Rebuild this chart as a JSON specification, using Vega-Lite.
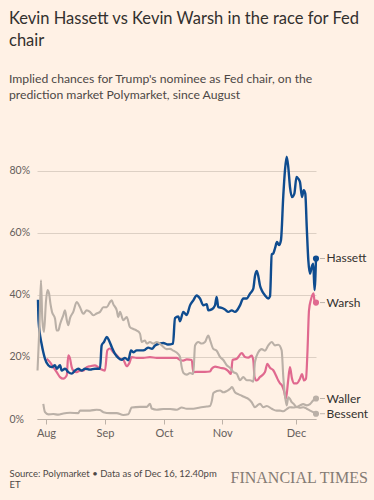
{
 "$schema": "https://vega.github.io/schema/vega-lite/v6.json",
 "width": 282,
 "height": 267,
 "autosize": {"type": "none"},
 "padding": {"left": 37, "top": 152, "right": 55, "bottom": 81},
 "background": "#fff1e5",
 "config": {"view": {"stroke": null}, "font": "Lato"},
 "title": {
  "text": ["Kevin Hassett vs Kevin Warsh in the race for Fed", "chair"],
  "subtitle": ["Implied chances for Trump's nominee as Fed chair, on the", "prediction market Polymarket, since August"],
  "anchor": "start",
  "frame": "bounds",
  "font": "Lato",
  "fontSize": 16.5,
  "fontWeight": "normal",
  "color": "#33302e",
  "lineHeight": 22.5,
  "subtitleFont": "Lato",
  "subtitleFontSize": 12.2,
  "subtitleColor": "#4d4845",
  "subtitleLineHeight": 16,
  "subtitlePadding": 23,
  "offset": 51
 },
 "data": {"format": {"parse": {"date": "utc:'%Y-%m-%dT%H:%M'"}}, "values": [
  {"name": "Hassett", "date": "2025-07-27T13:00", "pct": 38.4},
  {"name": "Hassett", "date": "2025-07-27T21:00", "pct": 31.5},
  {"name": "Hassett", "date": "2025-07-29T15:00", "pct": 24.0},
  {"name": "Hassett", "date": "2025-07-30T12:00", "pct": 21.5},
  {"name": "Hassett", "date": "2025-07-31T11:00", "pct": 19.4},
  {"name": "Hassett", "date": "2025-08-02T05:00", "pct": 17.3},
  {"name": "Hassett", "date": "2025-08-04T00:00", "pct": 16.7},
  {"name": "Hassett", "date": "2025-08-05T18:00", "pct": 17.3},
  {"name": "Hassett", "date": "2025-08-06T15:00", "pct": 16.2},
  {"name": "Hassett", "date": "2025-08-08T09:00", "pct": 17.3},
  {"name": "Hassett", "date": "2025-08-09T06:00", "pct": 15.6},
  {"name": "Hassett", "date": "2025-08-11T00:00", "pct": 16.2},
  {"name": "Hassett", "date": "2025-08-12T17:00", "pct": 15.1},
  {"name": "Hassett", "date": "2025-08-14T12:00", "pct": 14.6},
  {"name": "Hassett", "date": "2025-08-16T06:00", "pct": 15.6},
  {"name": "Hassett", "date": "2025-08-17T23:00", "pct": 16.2},
  {"name": "Hassett", "date": "2025-08-19T18:00", "pct": 15.6},
  {"name": "Hassett", "date": "2025-08-21T12:00", "pct": 16.2},
  {"name": "Hassett", "date": "2025-08-24T03:00", "pct": 15.9},
  {"name": "Hassett", "date": "2025-08-26T18:00", "pct": 16.2},
  {"name": "Hassett", "date": "2025-08-29T09:00", "pct": 16.2},
  {"name": "Hassett", "date": "2025-08-30T06:00", "pct": 23.7},
  {"name": "Hassett", "date": "2025-08-31T11:00", "pct": 24.8},
  {"name": "Hassett", "date": "2025-09-01T21:00", "pct": 26.4},
  {"name": "Hassett", "date": "2025-09-03T01:00", "pct": 25.3},
  {"name": "Hassett", "date": "2025-09-04T10:00", "pct": 23.2},
  {"name": "Hassett", "date": "2025-09-06T02:00", "pct": 21.0},
  {"name": "Hassett", "date": "2025-09-07T18:00", "pct": 19.7},
  {"name": "Hassett", "date": "2025-09-09T12:00", "pct": 19.1},
  {"name": "Hassett", "date": "2025-09-11T04:00", "pct": 19.7},
  {"name": "Hassett", "date": "2025-09-12T20:00", "pct": 18.9},
  {"name": "Hassett", "date": "2025-09-14T05:00", "pct": 22.1},
  {"name": "Hassett", "date": "2025-09-15T09:00", "pct": 21.5},
  {"name": "Hassett", "date": "2025-09-17T03:00", "pct": 22.1},
  {"name": "Hassett", "date": "2025-09-19T16:00", "pct": 22.1},
  {"name": "Hassett", "date": "2025-09-21T08:00", "pct": 22.3},
  {"name": "Hassett", "date": "2025-09-23T00:00", "pct": 23.0},
  {"name": "Hassett", "date": "2025-09-24T22:00", "pct": 22.6},
  {"name": "Hassett", "date": "2025-09-26T10:00", "pct": 23.7},
  {"name": "Hassett", "date": "2025-09-28T23:00", "pct": 24.3},
  {"name": "Hassett", "date": "2025-09-30T15:00", "pct": 24.5},
  {"name": "Hassett", "date": "2025-10-03T03:00", "pct": 24.0},
  {"name": "Hassett", "date": "2025-10-05T19:00", "pct": 24.3},
  {"name": "Hassett", "date": "2025-10-06T20:00", "pct": 32.5},
  {"name": "Hassett", "date": "2025-10-08T14:00", "pct": 33.0},
  {"name": "Hassett", "date": "2025-10-09T12:00", "pct": 31.5},
  {"name": "Hassett", "date": "2025-10-11T06:00", "pct": 34.5},
  {"name": "Hassett", "date": "2025-10-13T02:00", "pct": 33.5},
  {"name": "Hassett", "date": "2025-10-14T20:00", "pct": 36.6},
  {"name": "Hassett", "date": "2025-10-16T14:00", "pct": 38.2},
  {"name": "Hassett", "date": "2025-10-18T09:00", "pct": 39.8},
  {"name": "Hassett", "date": "2025-10-20T03:00", "pct": 38.8},
  {"name": "Hassett", "date": "2025-10-21T22:00", "pct": 36.6},
  {"name": "Hassett", "date": "2025-10-23T17:00", "pct": 37.0},
  {"name": "Hassett", "date": "2025-10-24T13:00", "pct": 35.0},
  {"name": "Hassett", "date": "2025-10-26T09:00", "pct": 35.3},
  {"name": "Hassett", "date": "2025-10-28T03:00", "pct": 36.6},
  {"name": "Hassett", "date": "2025-10-29T00:00", "pct": 39.3},
  {"name": "Hassett", "date": "2025-10-29T21:00", "pct": 36.0},
  {"name": "Hassett", "date": "2025-10-31T16:00", "pct": 35.8},
  {"name": "Hassett", "date": "2025-11-02T02:00", "pct": 35.3},
  {"name": "Hassett", "date": "2025-11-03T11:00", "pct": 34.5},
  {"name": "Hassett", "date": "2025-11-04T20:00", "pct": 35.0},
  {"name": "Hassett", "date": "2025-11-06T04:00", "pct": 34.5},
  {"name": "Hassett", "date": "2025-11-07T00:00", "pct": 35.0},
  {"name": "Hassett", "date": "2025-11-08T05:00", "pct": 36.6},
  {"name": "Hassett", "date": "2025-11-09T13:00", "pct": 38.8},
  {"name": "Hassett", "date": "2025-11-10T22:00", "pct": 38.8},
  {"name": "Hassett", "date": "2025-11-12T07:00", "pct": 40.4},
  {"name": "Hassett", "date": "2025-11-13T15:00", "pct": 42.0},
  {"name": "Hassett", "date": "2025-11-14T07:00", "pct": 46.0},
  {"name": "Hassett", "date": "2025-11-15T00:00", "pct": 47.7},
  {"name": "Hassett", "date": "2025-11-15T16:00", "pct": 46.0},
  {"name": "Hassett", "date": "2025-11-16T08:00", "pct": 43.0},
  {"name": "Hassett", "date": "2025-11-17T01:00", "pct": 41.5},
  {"name": "Hassett", "date": "2025-11-18T09:00", "pct": 39.8},
  {"name": "Hassett", "date": "2025-11-19T17:00", "pct": 38.8},
  {"name": "Hassett", "date": "2025-11-20T10:00", "pct": 39.5},
  {"name": "Hassett", "date": "2025-11-21T03:00", "pct": 53.0},
  {"name": "Hassett", "date": "2025-11-21T18:00", "pct": 53.3},
  {"name": "Hassett", "date": "2025-11-22T11:00", "pct": 55.0},
  {"name": "Hassett", "date": "2025-11-23T06:00", "pct": 57.0},
  {"name": "Hassett", "date": "2025-11-24T02:00", "pct": 56.0},
  {"name": "Hassett", "date": "2025-11-24T21:00", "pct": 57.6},
  {"name": "Hassett", "date": "2025-11-25T20:00", "pct": 72.0},
  {"name": "Hassett", "date": "2025-11-26T12:00", "pct": 80.0},
  {"name": "Hassett", "date": "2025-11-27T05:00", "pct": 84.5},
  {"name": "Hassett", "date": "2025-11-27T21:00", "pct": 81.0},
  {"name": "Hassett", "date": "2025-11-28T13:00", "pct": 74.8},
  {"name": "Hassett", "date": "2025-11-29T09:00", "pct": 71.5},
  {"name": "Hassett", "date": "2025-11-30T08:00", "pct": 72.6},
  {"name": "Hassett", "date": "2025-12-01T09:00", "pct": 78.0},
  {"name": "Hassett", "date": "2025-12-02T17:00", "pct": 77.4},
  {"name": "Hassett", "date": "2025-12-04T00:00", "pct": 76.3},
  {"name": "Hassett", "date": "2025-12-05T12:00", "pct": 71.5},
  {"name": "Hassett", "date": "2025-12-06T19:00", "pct": 73.7},
  {"name": "Hassett", "date": "2025-12-07T23:00", "pct": 72.6},
  {"name": "Hassett", "date": "2025-12-09T01:00", "pct": 62.0},
  {"name": "Hassett", "date": "2025-12-10T06:00", "pct": 51.1},
  {"name": "Hassett", "date": "2025-12-11T12:00", "pct": 46.8},
  {"name": "Hassett", "date": "2025-12-12T19:00", "pct": 49.0},
  {"name": "Hassett", "date": "2025-12-13T23:00", "pct": 50.0},
  {"name": "Hassett", "date": "2025-12-14T21:00", "pct": 41.5},
  {"name": "Hassett", "date": "2025-12-16T00:00", "pct": 51.7},

  {"name": "Warsh", "date": "2025-08-01T09:00", "pct": 19.4},
  {"name": "Warsh", "date": "2025-08-03T02:00", "pct": 18.3},
  {"name": "Warsh", "date": "2025-08-04T20:00", "pct": 16.7},
  {"name": "Warsh", "date": "2025-08-06T15:00", "pct": 15.1},
  {"name": "Warsh", "date": "2025-08-08T09:00", "pct": 13.5},
  {"name": "Warsh", "date": "2025-08-10T02:00", "pct": 13.0},
  {"name": "Warsh", "date": "2025-08-11T21:00", "pct": 14.0},
  {"name": "Warsh", "date": "2025-08-12T17:00", "pct": 20.5},
  {"name": "Warsh", "date": "2025-08-13T15:00", "pct": 19.5},
  {"name": "Warsh", "date": "2025-08-14T12:00", "pct": 16.7},
  {"name": "Warsh", "date": "2025-08-15T08:00", "pct": 15.6},
  {"name": "Warsh", "date": "2025-08-17T03:00", "pct": 15.1},
  {"name": "Warsh", "date": "2025-08-18T21:00", "pct": 15.6},
  {"name": "Warsh", "date": "2025-08-20T14:00", "pct": 15.6},
  {"name": "Warsh", "date": "2025-08-22T09:00", "pct": 16.7},
  {"name": "Warsh", "date": "2025-08-24T03:00", "pct": 17.0},
  {"name": "Warsh", "date": "2025-08-26T18:00", "pct": 17.3},
  {"name": "Warsh", "date": "2025-08-29T09:00", "pct": 16.2},
  {"name": "Warsh", "date": "2025-09-01T00:00", "pct": 15.6},
  {"name": "Warsh", "date": "2025-09-02T04:00", "pct": 22.1},
  {"name": "Warsh", "date": "2025-09-03T13:00", "pct": 22.7},
  {"name": "Warsh", "date": "2025-09-05T05:00", "pct": 21.5},
  {"name": "Warsh", "date": "2025-09-06T23:00", "pct": 20.5},
  {"name": "Warsh", "date": "2025-09-08T15:00", "pct": 19.4},
  {"name": "Warsh", "date": "2025-09-10T07:00", "pct": 19.1},
  {"name": "Warsh", "date": "2025-09-12T01:00", "pct": 17.0},
  {"name": "Warsh", "date": "2025-09-13T09:00", "pct": 18.0},
  {"name": "Warsh", "date": "2025-09-14T14:00", "pct": 19.9},
  {"name": "Warsh", "date": "2025-09-17T03:00", "pct": 19.7},
  {"name": "Warsh", "date": "2025-09-20T11:00", "pct": 19.7},
  {"name": "Warsh", "date": "2025-09-23T21:00", "pct": 19.9},
  {"name": "Warsh", "date": "2025-09-27T07:00", "pct": 19.7},
  {"name": "Warsh", "date": "2025-09-30T15:00", "pct": 19.7},
  {"name": "Warsh", "date": "2025-10-04T05:00", "pct": 19.7},
  {"name": "Warsh", "date": "2025-10-07T18:00", "pct": 19.7},
  {"name": "Warsh", "date": "2025-10-09T12:00", "pct": 19.0},
  {"name": "Warsh", "date": "2025-10-11T06:00", "pct": 18.8},
  {"name": "Warsh", "date": "2025-10-13T02:00", "pct": 19.2},
  {"name": "Warsh", "date": "2025-10-15T18:00", "pct": 19.0},
  {"name": "Warsh", "date": "2025-10-16T14:00", "pct": 15.1},
  {"name": "Warsh", "date": "2025-10-20T03:00", "pct": 15.2},
  {"name": "Warsh", "date": "2025-10-22T19:00", "pct": 15.2},
  {"name": "Warsh", "date": "2025-10-25T11:00", "pct": 15.3},
  {"name": "Warsh", "date": "2025-10-26T09:00", "pct": 16.2},
  {"name": "Warsh", "date": "2025-10-28T03:00", "pct": 16.9},
  {"name": "Warsh", "date": "2025-10-30T19:00", "pct": 16.5},
  {"name": "Warsh", "date": "2025-11-02T02:00", "pct": 16.2},
  {"name": "Warsh", "date": "2025-11-03T08:00", "pct": 15.5},
  {"name": "Warsh", "date": "2025-11-04T13:00", "pct": 14.5},
  {"name": "Warsh", "date": "2025-11-05T04:00", "pct": 19.0},
  {"name": "Warsh", "date": "2025-11-06T21:00", "pct": 19.4},
  {"name": "Warsh", "date": "2025-11-08T22:00", "pct": 21.2},
  {"name": "Warsh", "date": "2025-11-10T06:00", "pct": 20.0},
  {"name": "Warsh", "date": "2025-11-11T14:00", "pct": 19.8},
  {"name": "Warsh", "date": "2025-11-12T23:00", "pct": 20.4},
  {"name": "Warsh", "date": "2025-11-13T15:00", "pct": 18.9},
  {"name": "Warsh", "date": "2025-11-14T03:00", "pct": 13.5},
  {"name": "Warsh", "date": "2025-11-15T00:00", "pct": 12.4},
  {"name": "Warsh", "date": "2025-11-16T08:00", "pct": 13.5},
  {"name": "Warsh", "date": "2025-11-18T09:00", "pct": 15.1},
  {"name": "Warsh", "date": "2025-11-19T08:00", "pct": 17.8},
  {"name": "Warsh", "date": "2025-11-20T10:00", "pct": 16.5},
  {"name": "Warsh", "date": "2025-11-21T18:00", "pct": 15.7},
  {"name": "Warsh", "date": "2025-11-23T03:00", "pct": 13.5},
  {"name": "Warsh", "date": "2025-11-23T19:00", "pct": 12.4},
  {"name": "Warsh", "date": "2025-11-24T12:00", "pct": 11.5},
  {"name": "Warsh", "date": "2025-11-25T07:00", "pct": 10.8},
  {"name": "Warsh", "date": "2025-11-26T03:00", "pct": 9.0},
  {"name": "Warsh", "date": "2025-11-26T22:00", "pct": 6.5},
  {"name": "Warsh", "date": "2025-11-27T18:00", "pct": 12.0},
  {"name": "Warsh", "date": "2025-11-28T13:00", "pct": 16.7},
  {"name": "Warsh", "date": "2025-11-29T09:00", "pct": 13.0},
  {"name": "Warsh", "date": "2025-11-30T05:00", "pct": 11.5},
  {"name": "Warsh", "date": "2025-12-01T18:00", "pct": 11.5},
  {"name": "Warsh", "date": "2025-12-04T00:00", "pct": 13.0},
  {"name": "Warsh", "date": "2025-12-05T12:00", "pct": 14.5},
  {"name": "Warsh", "date": "2025-12-07T00:00", "pct": 12.4},
  {"name": "Warsh", "date": "2025-12-08T12:00", "pct": 13.0},
  {"name": "Warsh", "date": "2025-12-09T15:00", "pct": 22.0},
  {"name": "Warsh", "date": "2025-12-10T18:00", "pct": 35.0},
  {"name": "Warsh", "date": "2025-12-12T06:00", "pct": 38.5},
  {"name": "Warsh", "date": "2025-12-14T03:00", "pct": 40.5},
  {"name": "Warsh", "date": "2025-12-14T21:00", "pct": 38.0},
  {"name": "Warsh", "date": "2025-12-16T00:00", "pct": 37.5},

  {"name": "Waller", "date": "2025-07-27T07:00", "pct": 15.6},
  {"name": "Waller", "date": "2025-07-28T09:00", "pct": 30.0},
  {"name": "Waller", "date": "2025-07-29T05:00", "pct": 44.7},
  {"name": "Waller", "date": "2025-07-29T23:00", "pct": 32.0},
  {"name": "Waller", "date": "2025-07-30T21:00", "pct": 28.0},
  {"name": "Waller", "date": "2025-08-01T00:00", "pct": 38.0},
  {"name": "Waller", "date": "2025-08-01T19:00", "pct": 41.5},
  {"name": "Waller", "date": "2025-08-02T14:00", "pct": 40.5},
  {"name": "Waller", "date": "2025-08-03T09:00", "pct": 37.0},
  {"name": "Waller", "date": "2025-08-04T04:00", "pct": 34.5},
  {"name": "Waller", "date": "2025-08-05T18:00", "pct": 32.3},
  {"name": "Waller", "date": "2025-08-06T15:00", "pct": 28.5},
  {"name": "Waller", "date": "2025-08-07T11:00", "pct": 28.5},
  {"name": "Waller", "date": "2025-08-08T09:00", "pct": 30.5},
  {"name": "Waller", "date": "2025-08-10T02:00", "pct": 33.4},
  {"name": "Waller", "date": "2025-08-11T00:00", "pct": 35.0},
  {"name": "Waller", "date": "2025-08-11T21:00", "pct": 32.0},
  {"name": "Waller", "date": "2025-08-12T17:00", "pct": 30.2},
  {"name": "Waller", "date": "2025-08-13T15:00", "pct": 32.5},
  {"name": "Waller", "date": "2025-08-15T08:00", "pct": 34.5},
  {"name": "Waller", "date": "2025-08-17T03:00", "pct": 37.7},
  {"name": "Waller", "date": "2025-08-18T21:00", "pct": 36.0},
  {"name": "Waller", "date": "2025-08-20T14:00", "pct": 33.9},
  {"name": "Waller", "date": "2025-08-22T09:00", "pct": 35.0},
  {"name": "Waller", "date": "2025-08-24T03:00", "pct": 34.5},
  {"name": "Waller", "date": "2025-08-25T20:00", "pct": 33.4},
  {"name": "Waller", "date": "2025-08-27T15:00", "pct": 34.0},
  {"name": "Waller", "date": "2025-08-29T09:00", "pct": 34.5},
  {"name": "Waller", "date": "2025-08-31T03:00", "pct": 36.0},
  {"name": "Waller", "date": "2025-09-01T21:00", "pct": 36.0},
  {"name": "Waller", "date": "2025-09-03T13:00", "pct": 37.7},
  {"name": "Waller", "date": "2025-09-04T10:00", "pct": 38.2},
  {"name": "Waller", "date": "2025-09-05T05:00", "pct": 37.0},
  {"name": "Waller", "date": "2025-09-06T23:00", "pct": 35.0},
  {"name": "Waller", "date": "2025-09-07T18:00", "pct": 32.8},
  {"name": "Waller", "date": "2025-09-08T15:00", "pct": 34.5},
  {"name": "Waller", "date": "2025-09-10T07:00", "pct": 31.8},
  {"name": "Waller", "date": "2025-09-12T01:00", "pct": 32.8},
  {"name": "Waller", "date": "2025-09-13T17:00", "pct": 29.6},
  {"name": "Waller", "date": "2025-09-15T09:00", "pct": 29.0},
  {"name": "Waller", "date": "2025-09-17T03:00", "pct": 28.5},
  {"name": "Waller", "date": "2025-09-18T19:00", "pct": 27.5},
  {"name": "Waller", "date": "2025-09-19T16:00", "pct": 24.8},
  {"name": "Waller", "date": "2025-09-21T08:00", "pct": 25.3},
  {"name": "Waller", "date": "2025-09-22T05:00", "pct": 24.3},
  {"name": "Waller", "date": "2025-09-23T21:00", "pct": 24.8},
  {"name": "Waller", "date": "2025-09-25T13:00", "pct": 24.3},
  {"name": "Waller", "date": "2025-09-27T07:00", "pct": 24.8},
  {"name": "Waller", "date": "2025-09-29T20:00", "pct": 23.7},
  {"name": "Waller", "date": "2025-10-02T10:00", "pct": 22.5},
  {"name": "Waller", "date": "2025-10-04T05:00", "pct": 22.6},
  {"name": "Waller", "date": "2025-10-05T23:00", "pct": 22.0},
  {"name": "Waller", "date": "2025-10-08T11:00", "pct": 21.0},
  {"name": "Waller", "date": "2025-10-09T12:00", "pct": 20.0},
  {"name": "Waller", "date": "2025-10-10T10:00", "pct": 16.7},
  {"name": "Waller", "date": "2025-10-11T09:00", "pct": 14.8},
  {"name": "Waller", "date": "2025-10-13T02:00", "pct": 14.3},
  {"name": "Waller", "date": "2025-10-14T20:00", "pct": 14.8},
  {"name": "Waller", "date": "2025-10-16T14:00", "pct": 14.5},
  {"name": "Waller", "date": "2025-10-17T12:00", "pct": 23.7},
  {"name": "Waller", "date": "2025-10-19T06:00", "pct": 24.8},
  {"name": "Waller", "date": "2025-10-21T01:00", "pct": 24.3},
  {"name": "Waller", "date": "2025-10-22T19:00", "pct": 24.8},
  {"name": "Waller", "date": "2025-10-24T13:00", "pct": 26.9},
  {"name": "Waller", "date": "2025-10-25T11:00", "pct": 25.5},
  {"name": "Waller", "date": "2025-10-27T05:00", "pct": 22.6},
  {"name": "Waller", "date": "2025-10-29T00:00", "pct": 22.0},
  {"name": "Waller", "date": "2025-10-30T19:00", "pct": 20.0},
  {"name": "Waller", "date": "2025-11-01T10:00", "pct": 19.0},
  {"name": "Waller", "date": "2025-11-02T19:00", "pct": 17.3},
  {"name": "Waller", "date": "2025-11-04T03:00", "pct": 16.5},
  {"name": "Waller", "date": "2025-11-05T12:00", "pct": 15.1},
  {"name": "Waller", "date": "2025-11-06T21:00", "pct": 14.6},
  {"name": "Waller", "date": "2025-11-08T05:00", "pct": 12.5},
  {"name": "Waller", "date": "2025-11-09T13:00", "pct": 13.5},
  {"name": "Waller", "date": "2025-11-10T22:00", "pct": 12.5},
  {"name": "Waller", "date": "2025-11-12T07:00", "pct": 12.5},
  {"name": "Waller", "date": "2025-11-13T15:00", "pct": 12.0},
  {"name": "Waller", "date": "2025-11-14T07:00", "pct": 18.3},
  {"name": "Waller", "date": "2025-11-15T16:00", "pct": 21.5},
  {"name": "Waller", "date": "2025-11-17T01:00", "pct": 22.5},
  {"name": "Waller", "date": "2025-11-18T09:00", "pct": 22.0},
  {"name": "Waller", "date": "2025-11-19T17:00", "pct": 23.7},
  {"name": "Waller", "date": "2025-11-21T03:00", "pct": 24.8},
  {"name": "Waller", "date": "2025-11-22T11:00", "pct": 23.7},
  {"name": "Waller", "date": "2025-11-23T19:00", "pct": 23.9},
  {"name": "Waller", "date": "2025-11-25T04:00", "pct": 22.1},
  {"name": "Waller", "date": "2025-11-25T20:00", "pct": 13.5},
  {"name": "Waller", "date": "2025-11-26T12:00", "pct": 7.6},
  {"name": "Waller", "date": "2025-11-27T05:00", "pct": 4.4},
  {"name": "Waller", "date": "2025-11-27T21:00", "pct": 7.0},
  {"name": "Waller", "date": "2025-11-28T13:00", "pct": 6.5},
  {"name": "Waller", "date": "2025-11-29T06:00", "pct": 5.4},
  {"name": "Waller", "date": "2025-11-29T22:00", "pct": 5.0},
  {"name": "Waller", "date": "2025-12-01T13:00", "pct": 3.8},
  {"name": "Waller", "date": "2025-12-04T00:00", "pct": 4.4},
  {"name": "Waller", "date": "2025-12-06T11:00", "pct": 4.8},
  {"name": "Waller", "date": "2025-12-09T01:00", "pct": 4.4},
  {"name": "Waller", "date": "2025-12-11T12:00", "pct": 4.8},
  {"name": "Waller", "date": "2025-12-13T23:00", "pct": 6.0},
  {"name": "Waller", "date": "2025-12-16T00:00", "pct": 6.6},

  {"name": "Bessent", "date": "2025-07-30T12:00", "pct": 4.9},
  {"name": "Bessent", "date": "2025-07-31T11:00", "pct": 2.2},
  {"name": "Bessent", "date": "2025-08-02T05:00", "pct": 1.5},
  {"name": "Bessent", "date": "2025-08-04T20:00", "pct": 1.6},
  {"name": "Bessent", "date": "2025-08-07T11:00", "pct": 1.4},
  {"name": "Bessent", "date": "2025-08-10T02:00", "pct": 1.8},
  {"name": "Bessent", "date": "2025-08-13T15:00", "pct": 2.0},
  {"name": "Bessent", "date": "2025-08-17T23:00", "pct": 1.9},
  {"name": "Bessent", "date": "2025-08-18T21:00", "pct": 2.7},
  {"name": "Bessent", "date": "2025-08-24T03:00", "pct": 2.7},
  {"name": "Bessent", "date": "2025-08-27T15:00", "pct": 3.0},
  {"name": "Bessent", "date": "2025-08-29T09:00", "pct": 2.9},
  {"name": "Bessent", "date": "2025-08-31T03:00", "pct": 2.2},
  {"name": "Bessent", "date": "2025-09-03T13:00", "pct": 1.9},
  {"name": "Bessent", "date": "2025-09-06T23:00", "pct": 1.9},
  {"name": "Bessent", "date": "2025-09-10T07:00", "pct": 1.3},
  {"name": "Bessent", "date": "2025-09-12T20:00", "pct": 1.5},
  {"name": "Bessent", "date": "2025-09-14T14:00", "pct": 3.7},
  {"name": "Bessent", "date": "2025-09-18T19:00", "pct": 3.9},
  {"name": "Bessent", "date": "2025-09-22T05:00", "pct": 3.9},
  {"name": "Bessent", "date": "2025-09-23T21:00", "pct": 4.9},
  {"name": "Bessent", "date": "2025-09-24T18:00", "pct": 3.4},
  {"name": "Bessent", "date": "2025-09-27T07:00", "pct": 3.0},
  {"name": "Bessent", "date": "2025-09-30T15:00", "pct": 3.2},
  {"name": "Bessent", "date": "2025-10-04T05:00", "pct": 3.2},
  {"name": "Bessent", "date": "2025-10-07T18:00", "pct": 3.0},
  {"name": "Bessent", "date": "2025-10-10T10:00", "pct": 3.7},
  {"name": "Bessent", "date": "2025-10-13T02:00", "pct": 3.3},
  {"name": "Bessent", "date": "2025-10-16T14:00", "pct": 3.3},
  {"name": "Bessent", "date": "2025-10-20T03:00", "pct": 3.7},
  {"name": "Bessent", "date": "2025-10-23T17:00", "pct": 4.0},
  {"name": "Bessent", "date": "2025-10-25T11:00", "pct": 4.2},
  {"name": "Bessent", "date": "2025-10-26T12:00", "pct": 6.0},
  {"name": "Bessent", "date": "2025-10-27T05:00", "pct": 8.3},
  {"name": "Bessent", "date": "2025-10-29T00:00", "pct": 9.0},
  {"name": "Bessent", "date": "2025-10-30T19:00", "pct": 9.2},
  {"name": "Bessent", "date": "2025-11-01T10:00", "pct": 8.6},
  {"name": "Bessent", "date": "2025-11-02T19:00", "pct": 9.0},
  {"name": "Bessent", "date": "2025-11-04T03:00", "pct": 9.7},
  {"name": "Bessent", "date": "2025-11-04T23:00", "pct": 10.3},
  {"name": "Bessent", "date": "2025-11-06T04:00", "pct": 8.6},
  {"name": "Bessent", "date": "2025-11-07T12:00", "pct": 8.0},
  {"name": "Bessent", "date": "2025-11-08T22:00", "pct": 7.5},
  {"name": "Bessent", "date": "2025-11-10T06:00", "pct": 7.0},
  {"name": "Bessent", "date": "2025-11-11T14:00", "pct": 6.5},
  {"name": "Bessent", "date": "2025-11-12T23:00", "pct": 5.4},
  {"name": "Bessent", "date": "2025-11-14T07:00", "pct": 3.8},
  {"name": "Bessent", "date": "2025-11-15T16:00", "pct": 4.6},
  {"name": "Bessent", "date": "2025-11-16T08:00", "pct": 4.9},
  {"name": "Bessent", "date": "2025-11-17T17:00", "pct": 3.8},
  {"name": "Bessent", "date": "2025-11-19T02:00", "pct": 4.2},
  {"name": "Bessent", "date": "2025-11-21T03:00", "pct": 3.3},
  {"name": "Bessent", "date": "2025-11-23T03:00", "pct": 2.7},
  {"name": "Bessent", "date": "2025-11-24T12:00", "pct": 2.7},
  {"name": "Bessent", "date": "2025-11-25T20:00", "pct": 2.5},
  {"name": "Bessent", "date": "2025-11-27T05:00", "pct": 3.2},
  {"name": "Bessent", "date": "2025-11-28T13:00", "pct": 3.8},
  {"name": "Bessent", "date": "2025-11-29T22:00", "pct": 3.7},
  {"name": "Bessent", "date": "2025-12-01T13:00", "pct": 3.9},
  {"name": "Bessent", "date": "2025-12-04T00:00", "pct": 3.6},
  {"name": "Bessent", "date": "2025-12-06T11:00", "pct": 3.8},
  {"name": "Bessent", "date": "2025-12-09T01:00", "pct": 3.3},
  {"name": "Bessent", "date": "2025-12-11T12:00", "pct": 2.7},
  {"name": "Bessent", "date": "2025-12-13T23:00", "pct": 2.2},
  {"name": "Bessent", "date": "2025-12-16T00:00", "pct": 1.7}
 ]},
 "encoding": {
  "x": {
   "field": "date",
   "type": "quantitative",
   "scale": {
    "domain": [1753574400000, 1754006400000, 1756684800000, 1759276800000, 1761955200000, 1764547200000, 1765843200000],
    "range": [0, 9, 68, 127, 185.3, 259, 279],
    "zero": false,
    "nice": false
   },
   "axis": {
    "values": [1754006400000, 1756684800000, 1759276800000, 1761955200000, 1764547200000],
    "labelExpr": "utcFormat(datum.value, '%b')",
    "grid": false,
    "domain": true,
    "domainColor": "#bdb2a8",
    "domainWidth": 1,
    "ticks": true,
    "tickColor": "#bdb2a8",
    "tickSize": 5,
    "labelPadding": 3,
    "labelFont": "Lato",
    "labelFontSize": 11,
    "labelColor": "#66605c",
    "labelOverlap": false,
    "labelFlush": false,
    "title": ["Source: Polymarket • Data as of Dec 16, 12.40pm", "ET"],
    "titleX": -28,
    "titleY": 57,
    "titleAlign": "left",
    "titleAnchor": "start",
    "titleBaseline": "alphabetic",
    "titleFont": "Lato",
    "titleFontSize": 9.5,
    "titleFontWeight": "normal",
    "titleColor": "#4d4845",
    "titleLineHeight": 11
   }
  },
  "y": {
   "field": "pct",
   "type": "quantitative",
   "scale": {"domain": [0, 86], "nice": false},
   "axis": {
    "values": [0, 20, 40, 60, 80],
    "labelExpr": "datum.value + '%'",
    "grid": true,
    "gridColor": "#ddd0c4",
    "gridWidth": 1,
    "domain": false,
    "ticks": false,
    "tickSize": 0,
    "labelAlign": "left",
    "labelBaseline": "middle",
    "labelPadding": 28,
    "labelFont": "Lato",
    "labelFontSize": 10.5,
    "labelColor": "#66605c",
    "title": "FINANCIAL TIMES",
    "titleAngle": 0,
    "titleX": 193,
    "titleY": 330,
    "titleAlign": "left",
    "titleBaseline": "alphabetic",
    "titleFont": "Liberation Serif",
    "titleFontSize": 16,
    "titleFontWeight": "normal",
    "titleColor": "#857b74"
   }
  }
 },
 "layer": [
  {
   "transform": [{"filter": "datum.name === 'Warsh'"}],
   "mark": {"type": "line", "color": "#e0698f", "strokeWidth": 2.2, "interpolate": "monotone"}
  },
  {
   "transform": [{"filter": "datum.name === 'Hassett'"}],
   "mark": {"type": "line", "color": "#0f4c8f", "strokeWidth": 2.4, "interpolate": "monotone"}
  },
  {
   "transform": [{"filter": "datum.name === 'Waller' || datum.name === 'Bessent'"}],
   "mark": {"type": "line", "color": "#bab0a7", "strokeWidth": 2.1, "interpolate": "monotone"},
   "encoding": {"detail": {"field": "name", "type": "nominal"}}
  },
  {
   "transform": [
    {"joinaggregate": [{"op": "max", "field": "date", "as": "last"}], "groupby": ["name"]},
    {"filter": "time(datum.date) == time(datum.last)"}
   ],
   "mark": {"type": "tick", "orient": "horizontal", "size": 5, "thickness": 1, "xOffset": 6.5, "color": "#a39a92"}
  },
  {
   "transform": [
    {"joinaggregate": [{"op": "max", "field": "date", "as": "last"}], "groupby": ["name"]},
    {"filter": "time(datum.date) == time(datum.last)"}
   ],
   "mark": {"type": "circle", "size": 38, "opacity": 1},
   "encoding": {
    "color": {
     "field": "name",
     "type": "nominal",
     "scale": {"domain": ["Hassett", "Warsh", "Waller", "Bessent"], "range": ["#0f4c8f", "#e0698f", "#bab0a7", "#bab0a7"]},
     "legend": null
    }
   }
  },
  {
   "transform": [
    {"joinaggregate": [{"op": "max", "field": "date", "as": "last"}], "groupby": ["name"]},
    {"filter": "time(datum.date) == time(datum.last)"}
   ],
   "mark": {"type": "text", "align": "left", "baseline": "middle", "dx": 10.5, "font": "Lato", "fontSize": 12, "color": "#33302e"},
   "encoding": {"text": {"field": "name", "type": "nominal"}}
  }
 ]
}
